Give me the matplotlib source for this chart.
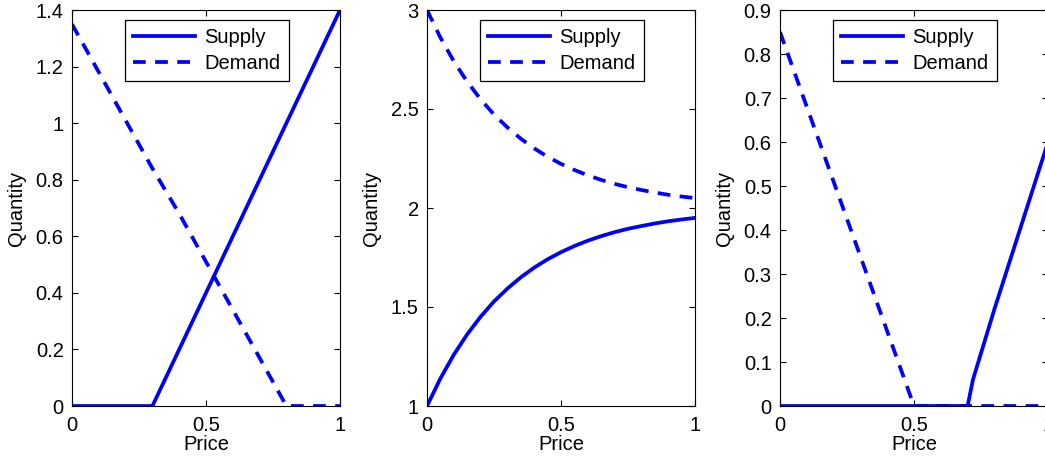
import matplotlib.pyplot as plt

plt.rcParams['font.family'] = ['Liberation Sans', 'DejaVu Sans']
plt.rcParams['font.size'] = 14.5

# panel 1: linear supply / demand
p1_price = [0, 0.3, 0.35, 0.4, 0.5, 0.6, 0.7, 0.8, 0.9, 1.0]
p1_supply = [0, 0, 0.1, 0.2, 0.4, 0.6, 0.8, 1.0, 1.2, 1.4]
p1_dprice = [0, 0.1, 0.2, 0.3, 0.4, 0.5, 0.6, 0.7, 0.8, 0.9, 1.0]
p1_demand = [1.35, 1.18, 1.01, 0.84, 0.68, 0.51, 0.34, 0.17, 0, 0, 0]

# panel 2: curved supply / demand
p2_price = [0, 0.05, 0.1, 0.15, 0.2, 0.25, 0.3, 0.35, 0.4, 0.45, 0.5,
            0.55, 0.6, 0.65, 0.7, 0.75, 0.8, 0.85, 0.9, 0.95, 1.0]
p2_supply = [1.0, 1.139, 1.259, 1.362, 1.451, 1.528, 1.593, 1.650, 1.699, 1.741, 1.777,
             1.808, 1.835, 1.858, 1.878, 1.895, 1.909, 1.922, 1.933, 1.942, 1.950]
p2_demand = [3.0, 2.861, 2.741, 2.638, 2.549, 2.472, 2.407, 2.350, 2.301, 2.259, 2.223,
             2.192, 2.165, 2.142, 2.122, 2.105, 2.091, 2.078, 2.067, 2.058, 2.050]

# panel 3: no overlap
p3_price = [0, 0.7, 0.72, 0.8, 0.9, 1.0]
p3_supply = [0, 0, 0.06, 0.22, 0.41, 0.6]
p3_dprice = [0, 0.1, 0.2, 0.3, 0.4, 0.5, 0.6, 0.8, 1.0]
p3_demand = [0.85, 0.68, 0.51, 0.34, 0.17, 0, 0, 0, 0]

W, H = 1045, 459
fig = plt.figure(figsize=(W / 100, H / 100), dpi=100)

panels = [
    (72, p1_price, p1_supply, p1_dprice, p1_demand, (0, 1.4), [0, 0.2, 0.4, 0.6, 0.8, 1, 1.2, 1.4]),
    (427, p2_price, p2_supply, p2_price, p2_demand, (1, 3), [1, 1.5, 2, 2.5, 3]),
    (780, p3_price, p3_supply, p3_dprice, p3_demand, (0, 0.9), [0, 0.1, 0.2, 0.3, 0.4, 0.5, 0.6, 0.7, 0.8, 0.9]),
]

for left, sx, sy, dx, dy, ylim, yticks in panels:
    ax = fig.add_axes([left / W, (H - 406) / H, 268 / W, 396 / H])
    ax.plot(sx, sy, color='#0000ff', lw=2.7, label='Supply')
    ax.plot(dx, dy, color='#0000ff', lw=2.7, dashes=(3.4, 2.5), label='Demand')
    ax.set_xlim(0, 1)
    ax.set_ylim(*ylim)
    ax.set_xticks([0, 0.5, 1])
    ax.set_xticklabels(['0', '0.5', '1'])
    ax.set_yticks(yticks)
    ax.set_yticklabels([('%g' % v) for v in yticks])
    ax.tick_params(direction='in', top=True, right=True, length=4, width=0.8)
    ax.tick_params(axis='y', pad=6)
    ax.tick_params(axis='x', pad=7)
    ax.set_xlabel('Price', labelpad=0)
    ax.set_ylabel('Quantity', labelpad=7)
    leg = ax.legend(loc='upper center', bbox_to_anchor=(0.503, 0.975), fancybox=False,
                    edgecolor='black', framealpha=1, handlelength=3.1, borderpad=0.4,
                    labelspacing=0.35, handletextpad=0.45, borderaxespad=0)
    leg.get_frame().set_linewidth(0.9)

fig.savefig('out.png', dpi=100)
